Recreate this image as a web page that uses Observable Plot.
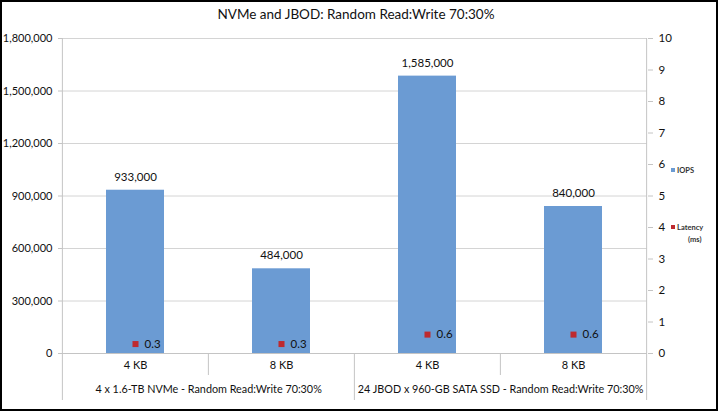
<!DOCTYPE html>
<html>
<head>
<meta charset="utf-8">
<script src="https://cdn.jsdelivr.net/npm/d3@7"></script>
<script src="https://cdn.jsdelivr.net/npm/@observablehq/plot@0.6"></script>
<style>
  html, body { margin: 0; padding: 0; background: #fff; }
  #wrap { position: relative; width: 718px; height: 411px; overflow: hidden; font-family: Lato, "Open Sans", sans-serif; }
  #title { position: absolute; left: 0; width: 712px; top: 6px; text-align: center; font-size: 13.5px; color: #111; }
  #chart { position: absolute; left: 0; top: 0; }
  #legend { position: absolute; left: 671px; top: 0; font-size: 7.5px; font-weight: bold; color: #333; }
  .lg { position: absolute; white-space: nowrap; }
  .sw { display: inline-block; width: 4px; height: 4px; margin-right: 2px; vertical-align: 1px; }
  #border { position: absolute; left: 0; top: 0; width: 718px; height: 411px; box-sizing: border-box; border: 2px solid #000; pointer-events: none; }
</style>
</head>
<body>
<div id="wrap">
  <div id="chart"></div>
  <div id="title"></div>
  <div id="legend"></div>
  <div id="border"></div>
</div>
<script>
// ---- data ----
const chartTitle = "NVMe and JBOD: Random Read:Write 70:30%";
const groups = ["4 x 1.6-TB NVMe - Random Read:Write 70:30%", "24 JBOD x 960-GB SATA SSD - Random Read:Write 70:30%"];
const blockSizes = ["4 KB", "8 KB", "4 KB", "8 KB"];
const groupIndex = [0, 0, 1, 1];
const iops = [933000, 484000, 1585000, 840000];
const latency = [0.3, 0.3, 0.6, 0.6];
const leftTicks = [0, 300000, 600000, 900000, 1200000, 1500000, 1800000];
const rightTicks = [0, 1, 2, 3, 4, 5, 6, 7, 8, 9, 10];
const seriesNames = ["IOPS", "Latency (ms)"];
const colors = ["#6b9bd3", "#be2a2f"];

// ---- build ----
const rows = blockSizes.map((s, i) => ({key: i, size: s, group: groups[groupIndex[i]], iops: iops[i], latency: latency[i]}));
const keys = rows.map(d => d.key);
const yMax = leftTicks[leftTicks.length - 1];
const ratio = yMax / rightTicks[rightTicks.length - 1];

const W = 718, H = 411, mL = 62, mR = 71, mT = 38, mB = 58;
const xOpts = {domain: keys, paddingInner: 0.6, paddingOuter: 0.3};
const xScale = Plot.scale({x: {type: "band", range: [mL, W - mR], ...xOpts}});
const step = xScale.step;
const firstOfGroup = rows.filter((d, i) => i === 0 || groupIndex[i] !== groupIndex[i - 1]);
const innerStarts = rows.filter((d, i) => i > 0 && groupIndex[i] === groupIndex[i - 1]);
const groupStartsAfterFirst = firstOfGroup.slice(1);
const gridColor = "#d4d4d4";
const axisColor = "#c4c4c4";

const plot = Plot.plot({
  width: W, height: H,
  marginLeft: mL, marginRight: mR, marginTop: mT, marginBottom: mB,
  style: {fontFamily: "Lato, 'Open Sans', sans-serif", fontSize: "11px", color: "#111", background: "transparent"},
  x: {...xOpts, axis: null},
  y: {domain: [0, yMax], axis: null},
  marks: [
    Plot.gridY(leftTicks, {stroke: gridColor, strokeOpacity: 1}),
    Plot.axisY({ticks: leftTicks, tickFormat: d3.format(","), tickSize: 4, tickPadding: 6, label: null, stroke: axisColor, fontSize: 11}),
    Plot.axisY({anchor: "right", ticks: rightTicks.map(v => v * ratio), tickFormat: d => String(Math.round(d / ratio)), tickSize: 5, tickPadding: 6, label: null, stroke: axisColor, fontSize: 11.5}),
    // outer frame lines (left & right axis lines extending into the category area)
    Plot.ruleX([keys[0]], {x: d => d, dx: -step / 2, stroke: axisColor, insetBottom: -47}),
    Plot.ruleX([keys[keys.length - 1]], {x: d => d, dx: step / 2, stroke: axisColor, insetBottom: -47}),
    // group separator
    Plot.ruleX(groupStartsAfterFirst, {x: "key", dx: -step / 2, stroke: axisColor, insetTop: H - mT - mB, insetBottom: -47}),
    // inner category separators
    Plot.ruleX(innerStarts, {x: "key", dx: -step / 2, stroke: axisColor, insetTop: H - mT - mB, insetBottom: -22}),
    Plot.barY(rows, {x: "key", y: "iops", fill: colors[0]}),
    Plot.ruleY([0], {stroke: axisColor}),
    Plot.text(rows, {x: "key", y: "iops", text: d => d3.format(",")(d.iops), dy: -13, fontSize: 11.5, fill: "#111"}),
    Plot.dot(rows, {x: "key", y: d => d.latency * ratio, symbol: "square", r: 3.4, fill: colors[1], stroke: null}),
    Plot.text(rows, {x: "key", y: d => d.latency * ratio, text: d => String(d.latency), dx: 9, textAnchor: "start", fontSize: 11.5, fill: "#111"}),
    Plot.text(rows, {x: "key", text: "size", frameAnchor: "bottom", dy: 15, fontSize: 11, fill: "#111"}),
    Plot.text(firstOfGroup, {x: "key", text: "group", frameAnchor: "bottom", dx: step / 2, dy: 39, fontSize: 10.8, fill: "#111"})
  ]
});
document.getElementById("chart").appendChild(plot);
document.getElementById("title").textContent = chartTitle;

// legend
const lg = document.getElementById("legend");
lg.innerHTML =
  `<div class="lg" style="top:166px;left:0"><span class="sw" style="background:${colors[0]}"></span>${seriesNames[0]}</div>` +
  `<div class="lg" style="top:223px;left:0"><span class="sw" style="background:${colors[1]}"></span>${seriesNames[1].split(" ")[0]}</div>` +
  `<div class="lg" style="top:235px;left:17px">${seriesNames[1].split(" ")[1]}</div>`;
</script>
</body>
</html>
